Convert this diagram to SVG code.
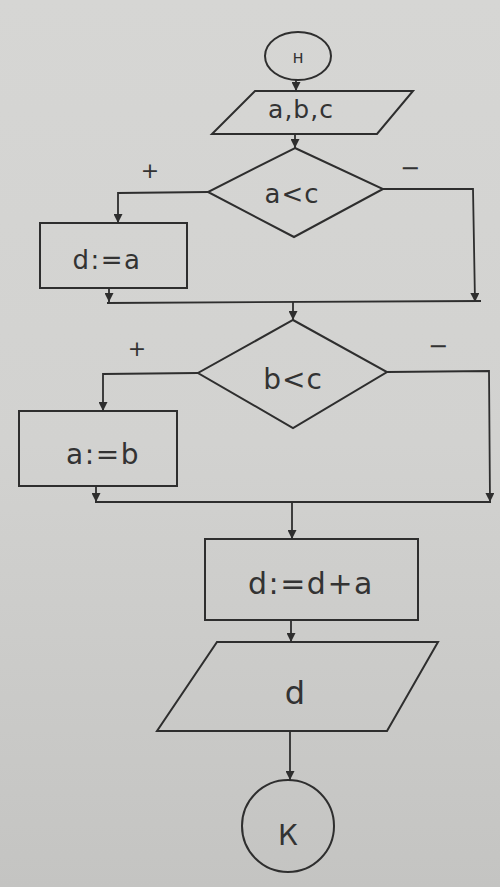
<svg xmlns="http://www.w3.org/2000/svg" width="500" height="887" viewBox="0 0 500 887">
<defs>
<linearGradient id="bg" x1="0" y1="0" x2="0" y2="1">
<stop offset="0" stop-color="#d6d6d4"/>
<stop offset="0.5" stop-color="#d2d2d0"/>
<stop offset="1" stop-color="#c4c4c2"/>
</linearGradient>
<marker id="arr" viewBox="0 0 10 10" refX="10" refY="5" markerWidth="9" markerHeight="9" markerUnits="userSpaceOnUse" orient="auto">
<path d="M0,0 L10,5 L0,10 z" fill="#2e2e2e"/>
</marker>
<style>
.s{fill:none;stroke:#2e2e2e;stroke-width:2}
.c{fill:none;stroke:#2e2e2e;stroke-width:1.8}
.t{font-family:"DejaVu Sans",sans-serif;fill:#333;text-anchor:middle}
</style>
</defs>
<rect width="500" height="887" fill="url(#bg)"/>
<g id="start">
<ellipse class="s" cx="298" cy="56" rx="33" ry="24"/>
<text class="t" x="298" y="63" font-size="17">н</text>
</g>
<g id="input">
<polygon class="s" points="255,91 413,91 377,134 212,134"/>
<text class="t" x="301" y="118" font-size="25" letter-spacing="1">a,b,c</text>
</g>
<g id="cond1">
<polygon class="s" points="295,148 383,189 294,237 208,192"/>
<text class="t" x="292" y="203" font-size="26" letter-spacing="1">a&lt;c</text>
<text class="t" x="150" y="178" font-size="22">+</text>
<text class="t" x="410" y="176" font-size="24">−</text>
</g>
<g id="assign1">
<rect class="s" x="40" y="223" width="147" height="65"/>
<text class="t" x="107" y="269" font-size="26" letter-spacing="1.5">d:=a</text>
</g>
<g id="cond2">
<polygon class="s" points="293,320 387,372 293,428 198,373"/>
<text class="t" x="293" y="389" font-size="28" letter-spacing="1">b&lt;c</text>
<text class="t" x="137" y="356" font-size="22">+</text>
<text class="t" x="438" y="354" font-size="24">−</text>
</g>
<g id="assign2">
<rect class="s" x="19" y="411" width="158" height="75"/>
<text class="t" x="103" y="464" font-size="28" letter-spacing="1.5">a:=b</text>
</g>
<g id="assign3">
<rect class="s" x="205" y="539" width="213" height="81"/>
<text class="t" x="311" y="594" font-size="30" letter-spacing="1.5">d:=d+a</text>
</g>
<g id="output">
<polygon class="s" points="217,642 438,642 387,731 157,731"/>
<text class="t" x="295" y="704" font-size="32">d</text>
</g>
<g id="end">
<circle class="s" cx="288" cy="826" r="46"/>
<text class="t" x="288" y="845" font-size="28">К</text>
</g>
<g id="connectors">
<line class="c" x1="296" y1="80" x2="296" y2="91" marker-end="url(#arr)"/>
<line class="c" x1="295" y1="134" x2="295" y2="148" marker-end="url(#arr)"/>
<polyline class="c" points="208,192 118,193 118,223" marker-end="url(#arr)"/>
<polyline class="c" points="383,189 473,189 475,302" marker-end="url(#arr)"/>
<line class="c" x1="109" y1="288" x2="109" y2="302" marker-end="url(#arr)"/>
<line class="c" x1="107" y1="303" x2="481" y2="301"/>
<line class="c" x1="293" y1="302" x2="293" y2="320" marker-end="url(#arr)"/>
<polyline class="c" points="198,373 103,374 103,411" marker-end="url(#arr)"/>
<polyline class="c" points="387,372 489,371 490,502" marker-end="url(#arr)"/>
<line class="c" x1="96" y1="486" x2="96" y2="502" marker-end="url(#arr)"/>
<line class="c" x1="95" y1="502" x2="491" y2="502"/>
<line class="c" x1="292" y1="502" x2="292" y2="539" marker-end="url(#arr)"/>
<line class="c" x1="291" y1="620" x2="291" y2="642" marker-end="url(#arr)"/>
<line class="c" x1="290" y1="731" x2="290" y2="780" marker-end="url(#arr)"/>
</g>
</svg>
